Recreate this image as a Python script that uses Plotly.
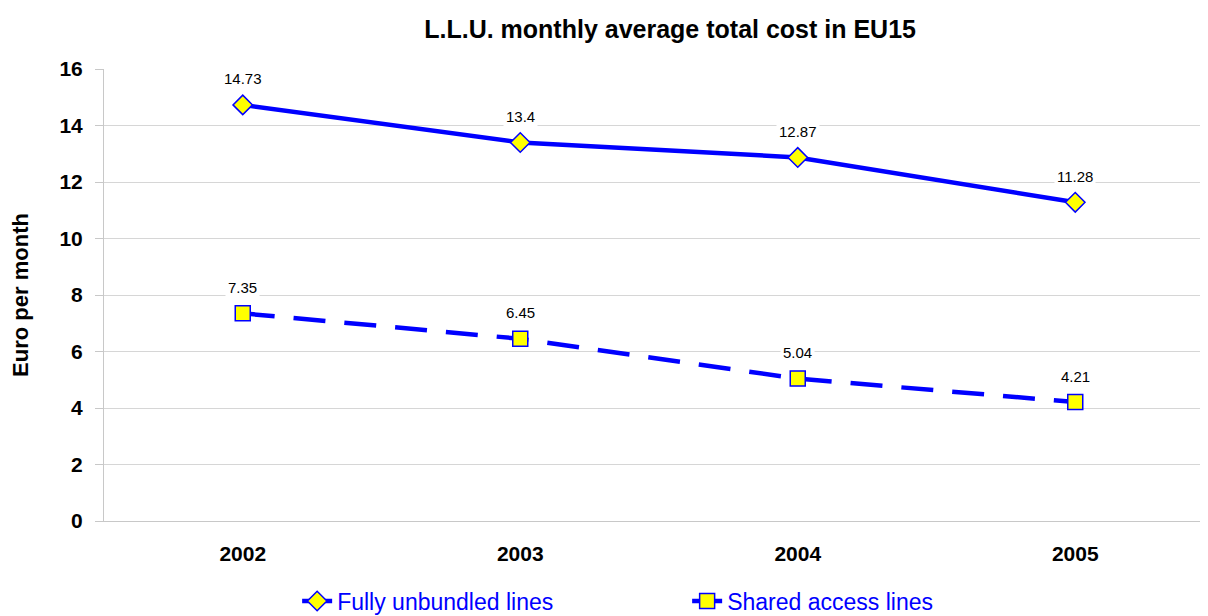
import plotly.graph_objects as go

years = ["2002", "2003", "2004", "2005"]
fully_unbundled = [14.73, 13.4, 12.87, 11.28]
shared_access = [7.35, 6.45, 5.04, 4.21]
y_ticks = [0, 2, 4, 6, 8, 10, 12, 14, 16]

FONT = "Liberation Sans, Arial, sans-serif"
BLUE = "#0000FF"

fig = go.Figure()
fig.add_trace(go.Scatter(
    x=years, y=fully_unbundled, name="Fully unbundled lines", mode="lines+markers",
    line=dict(color=BLUE, width=4.5),
    marker=dict(symbol="diamond", size=15, color="#FFFF00", line=dict(color=BLUE, width=1.5)),
))
fig.add_trace(go.Scatter(
    x=years, y=shared_access, name="Shared access lines", mode="lines+markers",
    line=dict(color=BLUE, width=4.5, dash="32px,19px"),
    marker=dict(symbol="square", size=15, color="#FFFF00", line=dict(color=BLUE, width=1.5)),
))

annotations = []
for series in (fully_unbundled, shared_access):
    for i, v in enumerate(series):
        annotations.append(dict(
            x=i, y=v, xref="x", yref="y", text=f"{v:g}", showarrow=False, yshift=26,
            font=dict(family=FONT, size=15, color="#000000"),
            bgcolor="white", borderpad=2,
        ))

fig.update_layout(
    width=1208, height=616,
    margin=dict(l=96, r=2, t=61, b=103),
    paper_bgcolor="white", plot_bgcolor="white",
    title=dict(text="<b>L.L.U. monthly average total cost in EU15</b>",
               x=0.51, xref="paper", xanchor="center", y=0.966, yanchor="middle",
               font=dict(family=FONT, size=25, color="#000000")),
    font=dict(family=FONT, color="#000000"),
    showlegend=True,
    legend=dict(orientation="h", x=0.174, xanchor="left", y=-0.177, yanchor="middle",
                font=dict(family=FONT, size=23, color=BLUE),
                itemwidth=30, entrywidth=345, entrywidthmode="pixels"),
    annotations=annotations,
)
fig.update_xaxes(
    type="category", range=[-0.5, 3.5],
    showgrid=False, showline=True, linecolor="#C8C8C8", linewidth=1, zeroline=False,
    ticks="", tickfont=dict(family=FONT, size=21, color="#000000"),
    tickprefix="<b>", ticksuffix="</b>", ticklabelstandoff=14,
)
fig.update_yaxes(
    range=[0, 16], tickvals=y_ticks,
    ticktext=[f"<b>{t}</b>" for t in y_ticks],
    showgrid=True, gridcolor="#D6D6D6", gridwidth=1,
    showline=True, linecolor="#C8C8C8", linewidth=1,
    ticks="outside", ticklen=8, tickcolor="#C8C8C8", ticklabelstandoff=8,
    zeroline=False,
    tickfont=dict(family=FONT, size=21, color="#000000"),
    title=dict(text="<b>Euro per month</b>", font=dict(family=FONT, size=22, color="#000000"), standoff=27),
)

fig.write_html("out.html")
